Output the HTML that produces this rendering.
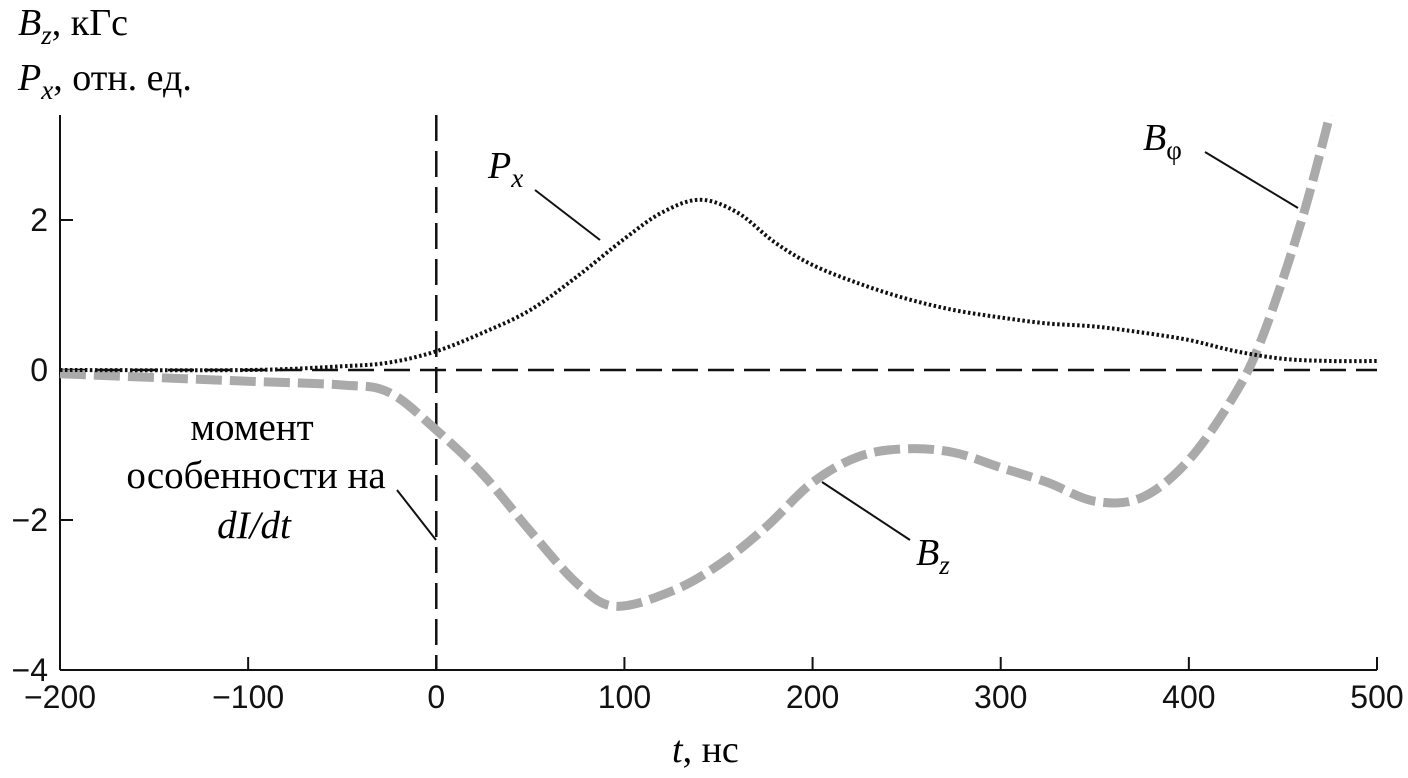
<!DOCTYPE html>
<html><head><meta charset="utf-8"><style>
html,body{margin:0;padding:0;background:#fff;}
svg{display:block;font-family:"Liberation Serif",serif;}
.tick{font-family:"Liberation Sans",sans-serif;font-size:32px;fill:#111;}
</style></head><body>
<svg id="chart" width="1408" height="778" viewBox="0 0 1408 778">
<g id="axes"></g>
<g id="marks"></g>
<text x="18" y="35" font-size="38"><tspan font-style="italic">B</tspan><tspan font-style="italic" font-size="27" dy="9">z</tspan><tspan dy="-9">, кГс</tspan></text>
<text x="18" y="90" font-size="38"><tspan font-style="italic">P</tspan><tspan font-style="italic" font-size="27" dy="9">x</tspan><tspan dy="-9">, отн. ед.</tspan></text>
<text x="672" y="762" font-size="38"><tspan font-style="italic">t</tspan>, нс</text>
<text x="488" y="178" font-size="38" font-style="italic">P<tspan font-size="27" dy="9">x</tspan></text>
<line x1="535" y1="190" x2="600" y2="240" stroke="#111" stroke-width="2"/>
<text x="1143" y="150" font-size="38" font-style="italic">B<tspan font-size="27" dy="9" font-style="normal">φ</tspan></text>
<line x1="1205" y1="152" x2="1298" y2="208" stroke="#111" stroke-width="2"/>
<text x="916" y="565" font-size="38" font-style="italic">B<tspan font-size="27" dy="9">z</tspan></text>
<line x1="910" y1="540" x2="822" y2="482" stroke="#111" stroke-width="2"/>
<text font-size="39" text-anchor="middle">
<tspan x="252" y="440">момент</tspan><tspan x="256" y="488">особенности на</tspan><tspan x="254" y="538" font-style="italic">dI/dt</tspan></text>
<line x1="397" y1="490" x2="436" y2="540" stroke="#111" stroke-width="2"/>
</svg>
<script>
const xTicks=[-200,-100,0,100,200,300,400,500];
const xTickLabels=["−200","−100","0","100","200","300","400","500"];
const yTicks=[-4,-2,0,2];
const yTickLabels=["−4","−2","0","2"];
const pxT=[-200,-100,-50,-25,0,25,50,75,100,120,140,160,180,200,225,250,275,300,325,350,375,400,425,450,475,500];
const pxV=[0,0,0.05,0.1,0.25,0.5,0.8,1.25,1.75,2.1,2.27,2.1,1.7,1.4,1.15,0.95,0.8,0.7,0.62,0.58,0.5,0.4,0.25,0.15,0.12,0.12];
const bzT=[-200,-150,-100,-50,-25,0,25,50,75,95,125,150,175,200,225,250,275,300,325,350,375,400,425,440,460,475];
const bzV=[-0.05,-0.1,-0.15,-0.2,-0.3,-0.8,-1.4,-2.15,-2.85,-3.15,-2.95,-2.6,-2.1,-1.5,-1.15,-1.05,-1.1,-1.3,-1.5,-1.75,-1.7,-1.2,-0.3,0.5,2.0,3.4];
const NS="http://www.w3.org/2000/svg";
const X=t=>60+(t+200)*1317/700;
const Y=v=>370-v*75;
const ax=document.getElementById('axes'),mk=document.getElementById('marks');
function el(tag,a,p){const e=document.createElementNS(NS,tag);for(const k in a)e.setAttribute(k,a[k]);p.appendChild(e);return e;}
let l=el('line',{x1:60,y1:115,x2:60,y2:670,stroke:'#111','stroke-width':2},ax);


l=el('line',{x1:60,y1:670,x2:1377,y2:670,stroke:'#111','stroke-width':2},ax);


xTicks.forEach((t,i)=>{
 const tk=el('line',{x1:X(t),y1:670,x2:X(t),y2:657,stroke:'#111','stroke-width':2},ax);
 
 
 const tx=el('text',{x:X(t),y:708,'text-anchor':'middle',class:'tick'},ax);tx.textContent=xTickLabels[i];
 
 
});
yTicks.forEach((v,i)=>{
 const tk=el('line',{x1:60,y1:Y(v),x2:73,y2:Y(v),stroke:'#111','stroke-width':2},ax);
 
 
 const tx=el('text',{x:48,y:Y(v)+11,'text-anchor':'end',class:'tick'},ax);tx.textContent=yTickLabels[i];
 
 
});
l=el('line',{x1:60,y1:Y(0),x2:1377,y2:Y(0),stroke:'#111','stroke-width':2.5,'stroke-dasharray':'26 10'},ax);


l=el('line',{x1:X(0),y1:115,x2:X(0),y2:670,stroke:'#111','stroke-width':2.5,'stroke-dasharray':'26 10'},ax);


function path(T,V){let d='';T.forEach((t,i)=>{const x=X(t),y=Y(V[i]);if(i===0)d='M'+x+','+y;else{const xp=X(T[i-1]),yp=Y(V[i-1]);const xn=i<T.length-1?X(T[i+1]):x,yn=i<T.length-1?Y(V[i+1]):y;const xpp=i>1?X(T[i-2]):xp,ypp=i>1?Y(V[i-2]):yp;
 d+=' C'+(xp+(x-xpp)/6)+','+(yp+(y-ypp)/6)+' '+(x-(xn-xp)/6)+','+(y-(yn-yp)/6)+' '+x+','+y;}});return d;}
let p=el('path',{d:path(bzT,bzV),fill:'none',stroke:'#aaa','stroke-width':9,'stroke-dasharray':'26 8'},mk);


p=el('path',{d:path(pxT,pxV),fill:'none',stroke:'#111','stroke-width':4,'stroke-dasharray':'2.5 2.5'},mk);


</script>
</body></html>
